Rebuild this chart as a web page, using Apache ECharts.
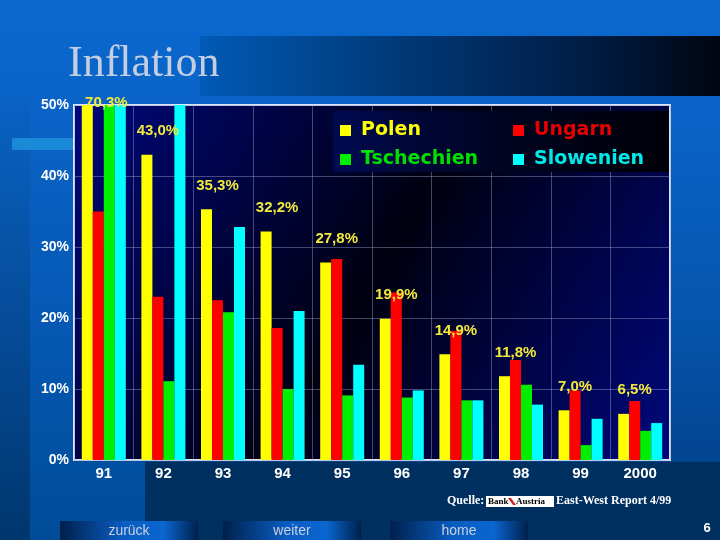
<!DOCTYPE html>
<html>
<head>
<meta charset="utf-8">
<script src="https://cdn.jsdelivr.net/npm/echarts@6/dist/echarts.min.js"></script>
<style>
html,body{margin:0;padding:0;background:#0a66cc;}
#chart{width:720px;height:540px;}
</style>
</head>
<body>
<div id="chart"></div>
<script>
// ---- data ----
const categories = ['91', '92', '93', '94', '95', '96', '97', '98', '99', '2000'];
const polen      = [70.3, 43.0, 35.3, 32.2, 27.8, 19.9, 14.9, 11.8, 7.0, 6.5];
const ungarn     = [35.0, 23.0, 22.5, 18.6, 28.3, 23.6, 18.2, 14.1, 9.8, 8.3];
const tschechien = [56.6, 11.1, 20.8, 10.0, 9.1, 8.8, 8.4, 10.6, 2.1, 4.1];
const slowenien  = [117.7, 201.3, 32.8, 21.0, 13.4, 9.8, 8.4, 7.8, 5.8, 5.2];
const seriesNames = ['Polen', 'Ungarn', 'Tschechien', 'Slowenien'];
const yMin = 0, yMax = 50, yStep = 10;

const colors = {
  Polen: '#ffff00', Ungarn: '#ff0000', Tschechien: '#00ee00', Slowenien: '#00ffff'
};
const legendText = {
  Polen: '#ffff00', Ungarn: '#e80000', Tschechien: '#00e000', Slowenien: '#00e8e8'
};

function fmtPct(v) { return v.toFixed(1).replace('.', ',') + '%'; }

function buildData(vals, withLabel) {
  return vals.map(function (v) {
    const item = { value: Math.min(v, yMax), raw: v };
    if (withLabel && v > yMax) {
      item.label = { distance: -5, offset: [19, 0] };
    }
    return item;
  });
}

function mkSeries(name, vals, withLabel) {
  const s = {
    name: name,
    type: 'bar',
    barWidth: 11,
    barGap: '0%',
    data: buildData(vals, withLabel),
    itemStyle: { color: colors[name] },
    emphasis: { disabled: true },
    z: 3
  };
  if (withLabel) {
    s.label = {
      show: true,
      position: 'top',
      distance: 10,
      offset: [11, -6],
      color: '#f2ea3c',
      fontFamily: 'Liberation Sans',
      fontWeight: 'bold',
      fontSize: 15,
      formatter: function (p) { return fmtPct(p.data.raw); }
    };
  }
  return s;
}

const chart = echarts.init(document.getElementById('chart'), null, { renderer: 'canvas' });

function btn(x, w, label) {
  return [
    {
      type: 'rect', z: -5,
      shape: { x: x, y: 521, width: w, height: 19 },
      style: {
        fill: new echarts.graphic.LinearGradient(0, 0, 1, 0, [
          { offset: 0, color: '#00204c' },
          { offset: 0.45, color: '#0a5cc0' },
          { offset: 0.75, color: '#0a66d0' },
          { offset: 1, color: '#00204c' }
        ])
      }
    },
    {
      type: 'text', z: 5,
      x: x + w / 2, y: 531,
      style: {
        text: label, fill: '#c8d0e0', font: '14px "Liberation Sans", Arial, sans-serif',
        align: 'center', verticalAlign: 'middle'
      }
    }
  ];
}

const graphics = [
  { type: 'rect', z: -10, shape: { x: 0, y: 0, width: 720, height: 540 },
    style: { fill: new echarts.graphic.LinearGradient(0, 0, 0, 1, [
      { offset: 0, color: '#0a68cc' }, { offset: 0.2, color: '#0a64c8' },
      { offset: 0.6, color: '#0654ac' }, { offset: 1, color: '#003c80' }]) } },
  { type: 'rect', z: -9, shape: { x: 0, y: 96, width: 30, height: 444 },
    style: { fill: new echarts.graphic.LinearGradient(0, 0, 0, 1, [
      { offset: 0, color: '#0a62c4' }, { offset: 1, color: '#00366e' }]) } },
  { type: 'rect', z: -9, shape: { x: 30, y: 96, width: 115, height: 444 },
    style: { fill: new echarts.graphic.LinearGradient(0, 0, 0, 1, [
      { offset: 0, color: '#0a64c8' }, { offset: 0.5, color: '#0658b4' }, { offset: 1, color: '#004c98' }]) } },
  { type: 'rect', z: -9, shape: { x: 145, y: 462, width: 575, height: 78 },
    style: { fill: '#00305f' } },
  { type: 'rect', z: -9, shape: { x: 200, y: 36, width: 520, height: 60 },
    style: { fill: new echarts.graphic.LinearGradient(0, 0, 1, 0, [
      { offset: 0, color: '#005ab6' }, { offset: 0.35, color: '#003c7c' },
      { offset: 0.75, color: '#001c44' }, { offset: 1, color: '#000610' }]) } },
  { type: 'rect', z: -8, shape: { x: 12, y: 138, width: 62, height: 12 },
    style: { fill: '#1a8ad8' } },
  { type: 'text', z: 5, x: 68, y: 64,
    style: { text: 'Inflation', fill: '#c4cee2',
      font: '44px "Liberation Serif", "Times New Roman", serif',
      verticalAlign: 'middle', align: 'left',
      shadowColor: 'rgba(0,0,20,0.7)', shadowOffsetX: 2, shadowOffsetY: 2, shadowBlur: 2 } },
  // legend backdrop
  { type: 'rect', z: 1, shape: { x: 333, y: 111, width: 336, height: 61 },
    style: { fill: new echarts.graphic.LinearGradient(0, 0, 1, 0, [
      { offset: 0, color: '#000a50' }, { offset: 0.5, color: '#000420' }, { offset: 1, color: '#000008' }]) } },
  // source line
  { type: 'text', z: 5, x: 447, y: 501,
    style: { text: 'Quelle:', fill: '#ffffff', font: 'bold 12px "Liberation Serif", serif', verticalAlign: 'middle' } },
  { type: 'rect', z: 4, shape: { x: 486, y: 496, width: 68, height: 11 }, style: { fill: '#ffffff' } },
  { type: 'text', z: 5, x: 488, y: 501.5,
    style: { text: 'Bank', fill: '#000000', font: 'bold 9px "Liberation Serif", serif', verticalAlign: 'middle' } },
  { type: 'polygon', z: 5, shape: { points: [[508, 498], [511, 498], [516, 505], [513, 505]] }, style: { fill: '#e02020' } },
  { type: 'text', z: 5, x: 516, y: 501.5,
    style: { text: 'Austria', fill: '#000000', font: 'bold 9px "Liberation Serif", serif', verticalAlign: 'middle' } },
  { type: 'text', z: 5, x: 556, y: 501,
    style: { text: 'East-West Report 4/99', fill: '#ffffff', font: 'bold 12px "Liberation Serif", serif', verticalAlign: 'middle' } },
  { type: 'text', z: 5, x: 707, y: 528,
    style: { text: '6', fill: '#ffffff', font: 'bold 13px "Liberation Sans", sans-serif', verticalAlign: 'middle', align: 'center' } }
].concat(btn(60, 138, 'zurück'), btn(223, 138, 'weiter'), btn(390, 138, 'home'));

function legendOpt(names, left) {
  return {
    orient: 'vertical',
    left: left, top: 116,
    itemWidth: 11, itemHeight: 11,
    itemGap: 10,
    icon: 'rect',
    z: 6,
    selectedMode: false,
    data: names.map(function (n) {
      return { name: n, textStyle: { color: legendText[n] } };
    }),
    textStyle: {
      fontFamily: 'DejaVu Sans', fontWeight: 'bold', fontSize: 19,
      padding: [0, 0, 0, 5]
    }
  };
}

const option = {
  animation: false,
  backgroundColor: 'transparent',
  graphic: { elements: graphics },
  legend: [legendOpt(['Polen', 'Tschechien'], 335), legendOpt(['Ungarn', 'Slowenien'], 508)],
  grid: {
    left: 74, right: 50, top: 105, bottom: 80,
    show: true,
    borderColor: '#dce4f8',
    borderWidth: 2,
    backgroundColor: new echarts.graphic.LinearGradient(0, 0, 1, 1, [
      { offset: 0, color: '#00087c' },
      { offset: 0.5, color: '#000010' },
      { offset: 1, color: '#00087c' }
    ]),
    containLabel: false
  },
  xAxis: {
    type: 'category',
    data: categories,
    axisLine: { show: false },
    axisTick: { show: false },
    axisLabel: {
      color: '#ffffff', fontFamily: 'Liberation Sans', fontWeight: 'bold', fontSize: 15, margin: 6
    },
    splitLine: { show: true, lineStyle: { color: 'rgba(150,160,200,0.45)', width: 1 } }
  },
  yAxis: {
    type: 'value',
    min: yMin, max: yMax, interval: yStep,
    axisLine: { show: false },
    axisTick: { show: false },
    axisLabel: {
      color: '#ffffff', fontFamily: 'Liberation Sans', fontWeight: 'bold', fontSize: 14, margin: 5,
      formatter: function (v) { return v + '%'; }
    },
    splitLine: { show: true, lineStyle: { color: 'rgba(150,160,200,0.45)', width: 1 } }
  },
  series: [
    mkSeries('Polen', polen, true),
    mkSeries('Ungarn', ungarn, false),
    mkSeries('Tschechien', tschechien, false),
    mkSeries('Slowenien', slowenien, false)
  ]
};

chart.setOption(option);
</script>
</body>
</html>
